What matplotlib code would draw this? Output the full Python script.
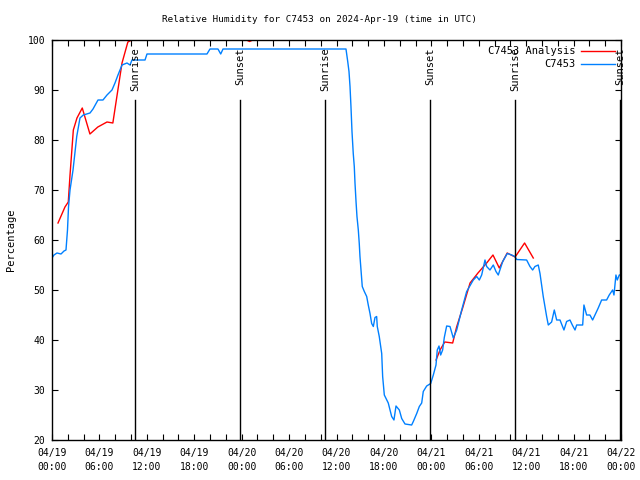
import numpy as np
import matplotlib
matplotlib.use("Agg")
import matplotlib.pyplot as plt

# hours since 04/19 00:00 UTC
obs_hours = [0, 0.25, 0.63, 1.14, 1.52, 1.77, 1.96, 2.09, 2.28, 2.66, 3.13, 3.54, 3.96,
             4.81, 5.19, 5.82, 6.45, 6.96, 7.59, 7.97, 8.35, 8.86, 9.49, 9.87, 10.12,
             11.77, 12.02, 19.61, 19.99, 21.0, 21.35, 21.64, 37.2, 37.42, 37.58, 37.71,
             37.83, 37.96, 38.12, 38.25, 38.34, 38.47, 38.59, 38.76, 38.88, 38.97, 39.10,
             39.26, 39.52, 39.82, 40.02, 40.24, 40.45, 40.66, 40.87, 41.08, 41.16, 41.41,
             41.72, 41.84, 42.05, 42.55, 42.98, 43.27, 43.53, 43.95, 44.25, 44.67, 45.51,
             45.72, 46.15, 46.48, 46.78, 46.98, 47.41, 47.92, 48.25, 48.59, 48.75, 48.97,
             49.18, 49.43, 49.64, 49.94, 50.36, 50.78, 51.21, 51.84, 52.47, 53.31, 53.74,
             54.07, 54.37, 54.79, 55.00, 55.42, 55.84, 56.18, 56.47, 57.03, 57.61, 58.17,
             58.58, 58.80, 60.06, 60.48, 60.82, 61.11, 61.53, 61.75, 62.16, 62.59, 62.80,
             63.22, 63.56, 63.86, 64.28, 64.78, 65.12, 65.54, 65.84, 66.18, 66.39, 67.15,
             67.31, 67.65, 68.07, 68.41, 68.71, 69.12, 69.55, 70.18, 70.51, 70.94, 71.11,
             71.36, 71.53, 71.78, 72.0]
obs_rh = [56.4, 57.0, 57.4, 57.2, 57.8, 58.0, 62, 66.6, 70, 74, 80.7, 84.4, 85,
          85.4, 86.2, 88, 88, 89, 90, 91.4, 93, 95, 95.4, 95, 96,
          96, 97.2, 97.2, 98.2, 98.2, 97.2, 98.2, 98.2, 95.7, 93.7, 90.7,
          86.7, 81.7, 77.3, 74.7, 71.4, 67.7, 64.7, 62, 59.3, 56.7, 54,
          50.7, 49.7, 48.7, 47, 45.3, 43.3, 42.7, 44.5, 44.7, 42.7, 40.7,
          37.3, 32.7, 29, 27.4, 24.7, 24, 26.8, 26, 24.3, 23.2, 23,
          23.7, 25.3, 26.7, 27.4, 29.7, 30.8, 31.3, 33, 35, 38, 38.8,
          37, 38, 40.5, 42.8, 42.7, 40.4, 42, 46, 49.7, 52, 52.7,
          52, 53, 56, 54.7, 54, 55, 53.7, 53, 55.7, 57.3, 57,
          56.7, 56.1, 56, 54.7, 54, 54.7, 55, 53.3, 48.7, 44.7, 43,
          43.6, 46, 44, 44, 42, 43.7, 44, 43, 42, 43, 43,
          47, 45, 45, 44, 45, 46.4, 48, 48, 49, 50, 49,
          53, 52, 53, 53]

ana_hours = [0.76, 1.64, 2.06, 2.28, 2.7, 3.16, 3.83, 4.8, 5.8, 6.96, 7.7, 8.2, 8.86,
             9.6, 10.1, 24.6, 25.0, 25.4, 26.0, 26.5,
             48.6, 49.1, 49.7, 50.7, 51.2, 52.0, 52.9, 53.9, 55.0, 55.8, 56.6, 57.6,
             58.6, 59.8, 60.9]
ana_rh = [63.4, 66.6, 67.6, 73, 82, 84.4, 86.4, 81.2, 82.6, 83.6, 83.4, 88.6, 95.4,
          99.6, 100, 100, 99.7, 100, 100, np.nan,
          36, 38, 39.6, 39.4, 42.6, 46.6, 51.4, 53.4, 55.4, 57, 54.4, 57.4,
          56.6, 59.4, 56.4]

sun_hours = [10.5, 23.8, 34.55, 47.85, 58.6, 71.87]
sun_labels = ["Sunrise", "Sunset", "Sunrise", "Sunset", "Sunrise", "Sunset"]

tick_hours = list(range(0, 73, 6))
tick_labels = ["04/19\n00:00", "04/19\n06:00", "04/19\n12:00", "04/19\n18:00",
               "04/20\n00:00", "04/20\n06:00", "04/20\n12:00", "04/20\n18:00",
               "04/21\n00:00", "04/21\n06:00", "04/21\n12:00", "04/21\n18:00",
               "04/22\n00:00"]

plt.rcParams['font.family'] = 'DejaVu Sans Mono'
plt.rcParams['font.size'] = 7

fig = plt.figure(figsize=(6.4, 4.8), dpi=100)
ax = fig.add_axes([52 / 640, 40 / 480, 569 / 640, 400 / 480])

ax.plot(ana_hours, ana_rh, color='#ff0000', lw=1, label='C7453 Analysis', zorder=2)
ax.plot(obs_hours, obs_rh, color='#0080ff', lw=1, label='C7453', zorder=2)

# sunrise / sunset markers
for h, lab in zip(sun_hours, sun_labels):
    ax.plot([h, h], [20, 88], color='black', lw=1, zorder=3)
    ax.text(h, 98.5, lab, rotation=90, ha='center', va='top', fontsize=7.5)

ax.set_xlim(0, 72)
ax.set_ylim(20, 100)
ax.set_xticks(tick_hours)
ax.set_xticklabels(tick_labels, linespacing=1.5)
ax.set_xticks(range(0, 73, 2), minor=True)
ax.set_yticks(range(20, 101, 10))
ax.tick_params(which='both', direction='in', top=True, right=True, length=4, width=0.8)
ax.tick_params(axis='x', pad=6)
ax.tick_params(axis='y', pad=5)
for s in ax.spines.values():
    s.set_linewidth(1)

fig.text(0.5, 1 - 19 / 480, 'Relative Humidity for C7453 on 2024-Apr-19 (time in UTC)',
         ha='center', va='center', fontsize=6.7)
fig.text(11 / 640, 0.5, 'Percentage', rotation=90, ha='center', va='center', fontsize=7.5)

leg = ax.legend(loc='upper right', frameon=False, markerfirst=False, handlelength=3.2,
                borderaxespad=0.2, labelspacing=0.3, handletextpad=0.6, fontsize=7.5)

fig.savefig('out.png', dpi=100)
